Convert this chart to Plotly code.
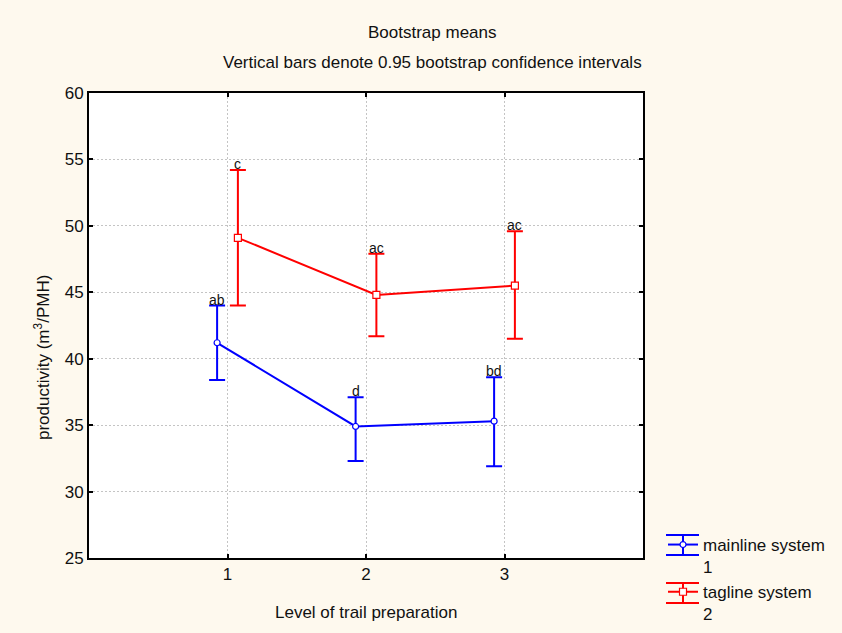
import plotly.graph_objects as go

# Bootstrap means of productivity by level of trail preparation
levels = [1, 2, 3]
tick_labels = ["1", "2", "3"]

mainline_mean = [41.2, 34.9, 35.3]
mainline_upper = [44.0, 37.1, 38.6]
mainline_lower = [38.4, 32.3, 31.9]
mainline_letters = ["ab", "d", "bd"]

tagline_mean = [49.1, 44.8, 45.5]
tagline_upper = [54.2, 47.9, 49.6]
tagline_lower = [44.0, 41.7, 41.5]
tagline_letters = ["c", "ac", "ac"]

offset = 0.075
FONT = "Arial, Liberation Sans, sans-serif"
INK = "#111111"
BG = "#FEF9EE"
BLUE = "#0000FF"
RED = "#FF0000"

W, H = 842, 633
ML, MR, MT, MB = 89, 199, 93, 75
PW, PH = W - ML - MR, H - MT - MB


def px_x(px):
    """Pixel column -> paper x."""
    return (px - ML) / PW


def px_y(py):
    """Pixel row -> paper y."""
    return (H - MB - py) / PH


def series(name, means, upper, lower, shift, color, symbol, msize):
    xs = [x + shift for x in levels]
    return go.Scatter(
        x=xs, y=means, name=name, mode="lines+markers",
        line=dict(color=color, width=2),
        marker=dict(symbol=symbol, size=msize, color="white",
                    line=dict(color=color, width=1.2)),
        error_y=dict(type="data", symmetric=False,
                     array=[u - m for u, m in zip(upper, means)],
                     arrayminus=[m - l for m, l in zip(means, lower)],
                     color=color, thickness=2, width=8),
    )


fig = go.Figure()
fig.add_trace(series("mainline system<br>1", mainline_mean, mainline_upper,
                     mainline_lower, -offset, BLUE, "circle", 6))
fig.add_trace(series("tagline system<br>2", tagline_mean, tagline_upper,
                     tagline_lower, offset, RED, "square", 7))

# Grouping letters above the upper confidence limits
for shift, upper, letters in [(-offset, mainline_upper, mainline_letters),
                              (offset, tagline_upper, tagline_letters)]:
    for x, u, t in zip(levels, upper, letters):
        fig.add_annotation(x=x + shift, y=u, text=t, showarrow=False,
                           xanchor="center", yanchor="bottom", yshift=-4,
                           font=dict(family=FONT, size=14, color=INK))

# Titles
text_font = dict(family=FONT, size=17, color=INK)
fig.add_annotation(text="Bootstrap means", xref="paper", yref="paper",
                   x=px_x(432.5), y=px_y(33), showarrow=False,
                   yanchor="middle", font=text_font)
fig.add_annotation(text="Vertical bars denote 0.95 bootstrap confidence intervals",
                   xref="paper", yref="paper", x=px_x(432.5), y=px_y(62),
                   showarrow=False, yanchor="middle", font=text_font)
fig.add_annotation(text="Level of trail preparation", xref="paper", yref="paper",
                   x=0.5, y=px_y(612), showarrow=False, yanchor="middle",
                   font=text_font)
fig.add_annotation(text="productivity (m<sup>3</sup>/PMH)", xref="paper",
                   yref="paper", x=px_x(42), y=px_y(358), textangle=-90,
                   showarrow=False, xanchor="center", yanchor="middle",
                   font=text_font)

# Error-bar style legend keys: caps and stem around each legend line
for color, yc in [(BLUE, 545), (RED, 593)]:
    for yy in (yc - 10, yc + 10):
        fig.add_shape(type="line", xref="paper", yref="paper",
                      x0=px_x(666), x1=px_x(699), y0=px_y(yy), y1=px_y(yy),
                      line=dict(color=color, width=2))
    fig.add_shape(type="line", xref="paper", yref="paper",
                  x0=px_x(683), x1=px_x(683), y0=px_y(yc - 10),
                  y1=px_y(yc + 10), line=dict(color=color, width=2))

axis_common = dict(
    showline=True, linecolor="black", linewidth=2, mirror="ticks",
    ticks="inside", ticklen=4, tickwidth=2, tickcolor="black",
    showgrid=True, gridcolor="#C4C4C4", griddash="2px,2px", gridwidth=1,
    zeroline=False, automargin=False,
    tickfont=dict(family=FONT, size=17, color=INK),
)

fig.update_layout(
    width=W, height=H,
    margin=dict(l=ML, r=MR, t=MT, b=MB, autoexpand=False),
    paper_bgcolor=BG, plot_bgcolor="white",
    font=dict(family=FONT, size=17, color=INK),
    xaxis=dict(range=[0, 4], tickvals=levels, ticktext=tick_labels,
               **axis_common),
    yaxis=dict(range=[25, 60], tickvals=[25, 30, 35, 40, 45, 50, 55, 60],
               **axis_common),
    legend=dict(xref="container", yref="container",
                x=663 / W, y=1 - 527 / H, xanchor="left", yanchor="top",
                valign="top", bgcolor="rgba(0,0,0,0)",
                font=dict(family=FONT, size=17, color=INK)),
    showlegend=True,
)

fig.write_html("out.html")
